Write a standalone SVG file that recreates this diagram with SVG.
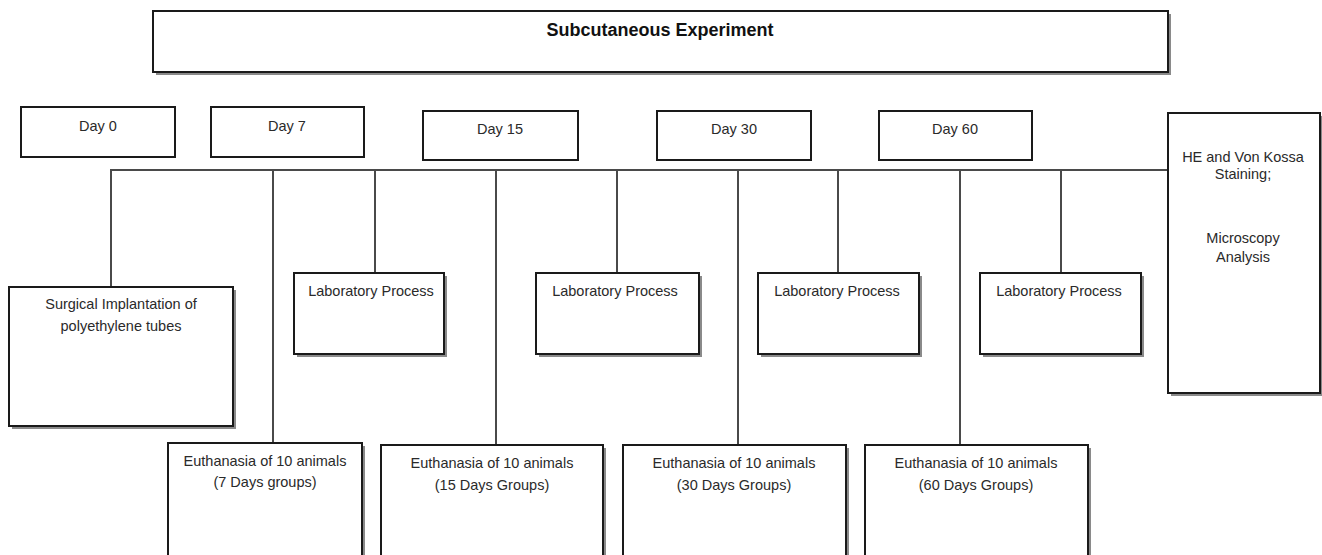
<svg xmlns="http://www.w3.org/2000/svg" width="1322" height="555" viewBox="0 0 1322 555">
<style>
.box{fill:#fff;stroke:#1a1a1a;stroke-width:2}
.sh{fill:#8a8a8a;stroke:none}
.t{font-family:"Liberation Sans",Arial,sans-serif;font-size:14.5px;fill:#2a2a2a;text-anchor:middle}
.tb{font-family:"Liberation Sans",Arial,sans-serif;font-size:18px;font-weight:bold;fill:#111;text-anchor:middle}
.c{stroke:#4a4a4a;stroke-width:2;fill:none}
</style>
<rect width="1322" height="555" fill="#fff"/>
<g id="connectors">
<line class="c" x1="111" y1="170" x2="1168" y2="170"/>
<line class="c" x1="111" y1="169" x2="111" y2="287"/>
<line class="c" x1="273" y1="170" x2="273" y2="443"/>
<line class="c" x1="375" y1="170" x2="375" y2="273"/>
<line class="c" x1="496" y1="170" x2="496" y2="445"/>
<line class="c" x1="617" y1="170" x2="617" y2="273"/>
<line class="c" x1="738" y1="170" x2="738" y2="445"/>
<line class="c" x1="838" y1="170" x2="838" y2="273"/>
<line class="c" x1="960" y1="170" x2="960" y2="445"/>
<line class="c" x1="1061" y1="170" x2="1061" y2="273"/>
</g>
<g id="title">
<rect class="sh" x="156" y="14" width="1015" height="61"/>
<rect class="box" x="153" y="11" width="1015" height="61"/>
<text class="tb" x="660" y="36">Subcutaneous Experiment</text>
</g>
<g id="day0">
<rect class="box" x="21" y="107" width="154" height="50"/>
<text class="t" x="98" y="131">Day 0</text>
</g>
<g id="day7">
<rect class="box" x="211" y="107" width="153" height="50"/>
<text class="t" x="287" y="131">Day 7</text>
</g>
<g id="day15">
<rect class="box" x="423" y="111" width="155" height="49"/>
<text class="t" x="500" y="134">Day 15</text>
</g>
<g id="day30">
<rect class="box" x="657" y="111" width="154" height="49"/>
<text class="t" x="734" y="134">Day 30</text>
</g>
<g id="day60">
<rect class="box" x="879" y="111" width="153" height="49"/>
<text class="t" x="955" y="134">Day 60</text>
</g>
<g id="staining">
<rect class="sh" x="1171" y="116" width="152" height="280"/>
<rect class="box" x="1168" y="113" width="152" height="280"/>
<text class="t" x="1243" y="162">HE and Von Kossa</text>
<text class="t" x="1243" y="179">Staining;</text>
<text class="t" x="1243" y="243">Microscopy</text>
<text class="t" x="1243" y="262">Analysis</text>
</g>
<g id="surgical">
<rect class="sh" x="12" y="290" width="224" height="139"/>
<rect class="box" x="9" y="287" width="224" height="139"/>
<text class="t" x="121" y="309">Surgical Implantation of</text>
<text class="t" x="121" y="331">polyethylene tubes</text>
</g>
<g id="lab1">
<rect class="sh" x="297" y="276" width="150" height="81"/>
<rect class="box" x="294" y="273" width="150" height="81"/>
<text class="t" x="371" y="296">Laboratory Process</text>
</g>
<g id="lab2">
<rect class="sh" x="539" y="276" width="163" height="81"/>
<rect class="box" x="536" y="273" width="163" height="81"/>
<text class="t" x="615" y="296">Laboratory Process</text>
</g>
<g id="lab3">
<rect class="sh" x="761" y="276" width="161" height="81"/>
<rect class="box" x="758" y="273" width="161" height="81"/>
<text class="t" x="837" y="296">Laboratory Process</text>
</g>
<g id="lab4">
<rect class="sh" x="983" y="276" width="161" height="81"/>
<rect class="box" x="980" y="273" width="161" height="81"/>
<text class="t" x="1059" y="296">Laboratory Process</text>
</g>
<g id="euth7">
<rect class="sh" x="171" y="446" width="194" height="120"/>
<rect class="box" x="168" y="443" width="194" height="120"/>
<text class="t" x="265" y="466">Euthanasia of 10 animals</text>
<text class="t" x="265" y="487">(7 Days groups)</text>
</g>
<g id="euth15">
<rect class="sh" x="384" y="448" width="222" height="120"/>
<rect class="box" x="381" y="445" width="222" height="120"/>
<text class="t" x="492" y="468">Euthanasia of 10 animals</text>
<text class="t" x="492" y="490">(15 Days Groups)</text>
</g>
<g id="euth30">
<rect class="sh" x="626" y="448" width="223" height="120"/>
<rect class="box" x="623" y="445" width="223" height="120"/>
<text class="t" x="734" y="468">Euthanasia of 10 animals</text>
<text class="t" x="734" y="490">(30 Days Groups)</text>
</g>
<g id="euth60">
<rect class="sh" x="868" y="448" width="223" height="120"/>
<rect class="box" x="865" y="445" width="223" height="120"/>
<text class="t" x="976" y="468">Euthanasia of 10 animals</text>
<text class="t" x="976" y="490">(60 Days Groups)</text>
</g>
</svg>
